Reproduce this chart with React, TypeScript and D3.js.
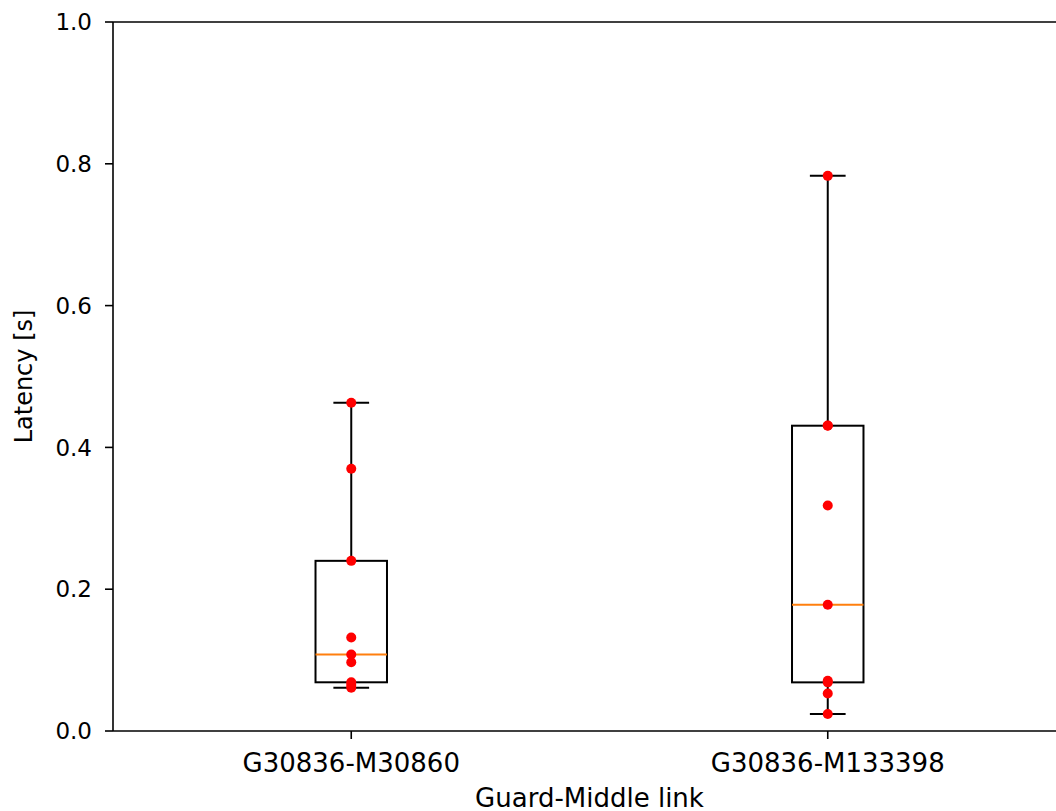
import React from "react";
import * as d3 from "d3";

const links = ["G30836-M30860", "G30836-M133398"];
const latencyA = [0.061, 0.065, 0.0687, 0.097, 0.108, 0.132, 0.24, 0.37, 0.463];
const latencyB = [0.024, 0.053, 0.0686, 0.071, 0.178, 0.318, 0.4306, 0.431, 0.783];
const series = [latencyA, latencyB];
const yTicks = [0, 0.2, 0.4, 0.6, 0.8, 1.0];

const W = 1056, H = 811;
const margin = { top: 22, left: 113, bottom: 731, right: 1066 };
const font = "'DejaVu Sans', sans-serif";

function boxStats(vals: number[]) {
  const s = [...vals].sort(d3.ascending);
  const q1 = d3.quantile(s, 0.25)!;
  const med = d3.quantile(s, 0.5)!;
  const q3 = d3.quantile(s, 0.75)!;
  const iqr = q3 - q1;
  const lo = d3.min(s.filter(v => v >= q1 - 1.5 * iqr))!;
  const hi = d3.max(s.filter(v => v <= q3 + 1.5 * iqr))!;
  return { q1, med, q3, lo, hi };
}

export default function App() {
  const x = d3.scaleLinear().domain([0.5, 2.5]).range([margin.left, margin.right]);
  const y = d3.scaleLinear().domain([0, 1]).range([margin.bottom, margin.top]);
  const boxW = x(0.15) - x(0);
  const capW = boxW / 2;

  return (
    <svg width={W} height={H} style={{ position: "absolute", left: 0, top: 0, background: "#fff" }}>
      {/* boxes */}
      {series.map((vals, i) => {
        const st = boxStats(vals);
        const cx = x(i + 1);
        return (
          <g key={i} fill="none" stroke="#000" strokeWidth={2}>
            <line x1={cx} x2={cx} y1={y(st.q3)} y2={y(st.hi)} />
            <line x1={cx} x2={cx} y1={y(st.q1)} y2={y(st.lo)} />
            <line x1={cx - capW / 2} x2={cx + capW / 2} y1={y(st.hi)} y2={y(st.hi)} />
            <line x1={cx - capW / 2} x2={cx + capW / 2} y1={y(st.lo)} y2={y(st.lo)} />
            <rect x={cx - boxW / 2} y={y(st.q3)} width={boxW} height={y(st.q1) - y(st.q3)} />
            <line x1={cx - boxW / 2} x2={cx + boxW / 2} y1={y(st.med)} y2={y(st.med)} stroke="#ff7f0e" />
          </g>
        );
      })}
      {/* points */}
      {series.map((vals, i) =>
        vals.map((v, j) => <circle key={`${i}-${j}`} cx={x(i + 1)} cy={y(v)} r={5} fill="#ff0000" />)
      )}
      {/* spines */}
      <g stroke="#000" strokeWidth={1.6} fill="none">
        <line x1={margin.left} x2={margin.left} y1={margin.top} y2={margin.bottom} />
        <line x1={margin.left} x2={margin.right} y1={margin.bottom} y2={margin.bottom} />
        <line x1={margin.left} x2={margin.right} y1={margin.top} y2={margin.top} />
        <line x1={margin.right} x2={margin.right} y1={margin.top} y2={margin.bottom} />
      </g>
      {/* y axis */}
      {yTicks.map(t => (
        <g key={t}>
          <line x1={margin.left - 8} x2={margin.left} y1={y(t)} y2={y(t)} stroke="#000" strokeWidth={1.6} />
          <text x={margin.left - 21} y={y(t)} dy="0.36em" textAnchor="end" fontFamily={font} fontSize={23} fill="#000">
            {d3.format(".1f")(t)}
          </text>
        </g>
      ))}
      {/* x axis */}
      {links.map((l, i) => (
        <g key={l}>
          <line x1={x(i + 1)} x2={x(i + 1)} y1={margin.bottom} y2={margin.bottom + 8} stroke="#000" strokeWidth={1.6} />
          <text x={x(i + 1)} y={772} textAnchor="middle" fontFamily={font} fontSize={26} fill="#000">{l}</text>
        </g>
      ))}
      <text x={(margin.left + margin.right) / 2} y={807} textAnchor="middle" fontFamily={font} fontSize={26} fill="#000">
        Guard-Middle link
      </text>
      <text transform={`translate(32,${(margin.top + margin.bottom) / 2}) rotate(-90)`} textAnchor="middle"
        fontFamily={font} fontSize={24} fill="#000">
        Latency [s]
      </text>
    </svg>
  );
}
